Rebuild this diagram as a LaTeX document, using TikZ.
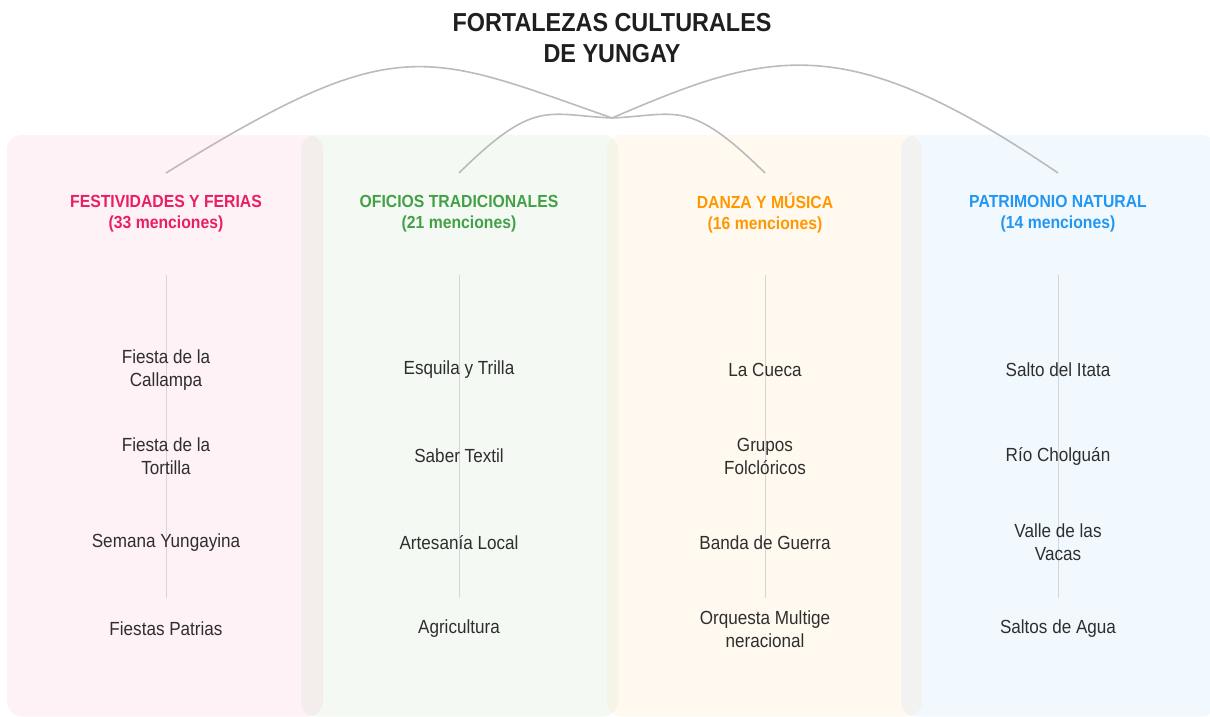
\documentclass[tikz,border=0pt]{standalone}
\usepackage{fontspec}
\setmainfont{Liberation Sans}[FakeStretch=0.9]
\definecolor{festcol}{HTML}{E91E63}
\definecolor{oficol}{HTML}{43A047}
\definecolor{dancol}{HTML}{FF9800}
\definecolor{patcol}{HTML}{2196F3}
\definecolor{linkgray}{HTML}{BBBBBB}
\definecolor{spinegray}{HTML}{D6D6D6}
\definecolor{itemtext}{HTML}{2E2E2E}

\begin{document}
\begin{tikzpicture}[x=1pt,y=-1pt,
    card/.style={rounded corners=15pt,fill opacity=0.06},
    title/.style={font=\bfseries\fontsize{26}{31}\selectfont,align=center,text=black!88},
    head/.style={font=\bfseries\fontsize{17.5}{21}\selectfont,align=center},
    item/.style={font=\fontsize{19}{23}\selectfont,align=center,text=itemtext},
    link/.style={draw=linkgray,line width=1.6pt},
    spine/.style={draw=spinegray,line width=1pt}]
    \useasboundingbox (0,0) rectangle (1210,717);
    % column cards
    \fill[card,fill=festcol] (7,135) rectangle (323,716.5);
    \fill[card,fill=oficol] (301,135) rectangle (618,716.5);
    \fill[card,fill=dancol] (607,135) rectangle (922,716.5);
    \fill[card,fill=patcol] (901,135) rectangle (1217,716.5);
    % title and hub
    \node[title] (title) at (612,38) {FORTALEZAS CULTURALES\\DE YUNGAY};
    \coordinate (hub) at (612,118);
    \foreach \x/\n in {166/fest,459/ofi,765/dan,1058/pat} {
      \coordinate (\n-top) at (\x,173);
      \coordinate (\n-s1) at (\x,275);
      \coordinate (\n-s2) at (\x,598);
      \draw[spine] (\n-s1) -- (\n-s2);
    }
    % links from the hub
    \draw[link] (hub) .. controls (424,52) and (397,30) .. (fest-top);
    \draw[link] (hub) .. controls (547,115) and (535,98) .. (ofi-top);
    \draw[link] (hub) .. controls (677,115) and (689,98) .. (dan-top);
    \draw[link] (hub) .. controls (770,50) and (845,28) .. (pat-top);
    % headers
    \node[head,text=festcol] (fest) at (166,213.5) {FESTIVIDADES Y FERIAS\\(33 menciones)};
    \node[head,text=oficol] (ofi) at (459,213.5) {OFICIOS TRADICIONALES\\(21 menciones)};
    \node[head,text=dancol] (dan) at (765,213.5) {DANZA Y MÚSICA\\(16 menciones)};
    \node[head,text=patcol] (pat) at (1058,213.5) {PATRIMONIO NATURAL\\(14 menciones)};
    % items
    \node[item] (fest1) at (166,370) {Fiesta de la\\Callampa};
    \node[item] (fest2) at (166,456) {Fiesta de la\\Tortilla};
    \node[item] (fest3) at (166,542.5) {Semana Yungayina};
    \node[item] (fest4) at (166,629) {Fiestas Patrias};
    \node[item] (ofi1) at (459,370) {Esquila y Trilla};
    \node[item] (ofi2) at (459,456) {Saber Textil};
    \node[item] (ofi3) at (459,542.5) {Artesanía Local};
    \node[item] (ofi4) at (459,629) {Agricultura};
    \node[item] (dan1) at (765,370) {La Cueca};
    \node[item] (dan2) at (765,456) {Grupos\\Folclóricos};
    \node[item] (dan3) at (765,542.5) {Banda de Guerra};
    \node[item] (dan4) at (765,629) {Orquesta Multige\\neracional};
    \node[item] (pat1) at (1058,370) {Salto del Itata};
    \node[item] (pat2) at (1058,456) {Río Cholguán};
    \node[item] (pat3) at (1058,542.5) {Valle de las\\Vacas};
    \node[item] (pat4) at (1058,629) {Saltos de Agua};
\end{tikzpicture}
\end{document}
